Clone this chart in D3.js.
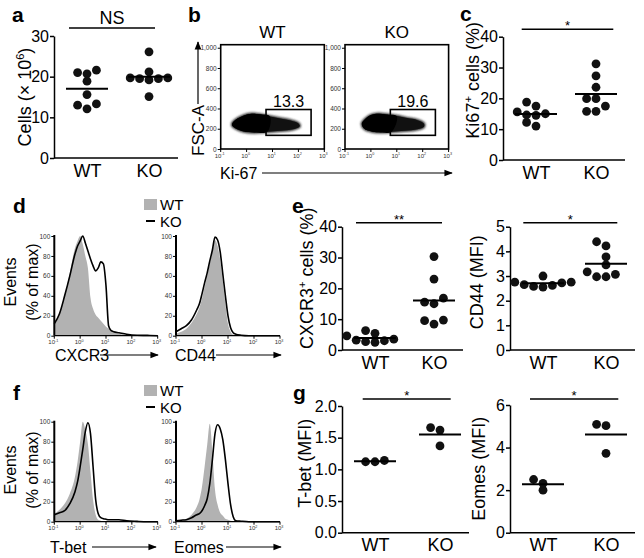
<!DOCTYPE html>
<html>
<head>
<meta charset="utf-8">
<script src="https://cdn.jsdelivr.net/npm/d3@7"></script>
<style>
  body { margin: 0; background: #fff; }
  svg { display: block; }
  text { font-family: "Liberation Sans", Arial, Helvetica, sans-serif; fill: #000; }
</style>
</head>
<body>
<svg id="fig" width="644" height="558"></svg>
<script>
const groups = ['WT', 'KO'];

// a: cell numbers (x 10^6)
const cellsWT = [21.0, 21.6, 20.7, 18.9, 15.6, 13.3, 12.1, 13.0];
const cellsKO = [26.1, 21.2, 19.7, 19.5, 19.2, 19.5, 19.7, 15.1];

// c: Ki67+ cells (%)
const ki67WT = [17.5, 18.8, 14.5, 15.0, 14.6, 15.6, 11.0, 12.2];
const ki67KO = [31.2, 27.3, 23.6, 19.9, 19.9, 17.5, 15.8, 15.8];

// e: CXCR3+ cells (%) and CD44 MFI
const cxcr3WT = [5.4, 6.3, 4.6, 3.5, 3.0, 2.7, 2.5, 3.2];
const cxcr3KO = [30.3, 23.0, 16.8, 15.5, 15.0, 9.7, 9.5, 8.4];
const cd44WT = [2.75, 2.72, 3.0, 2.65, 2.58, 2.55, 2.62, 2.75];
const cd44KO = [4.39, 4.22, 3.78, 3.45, 3.07, 2.97, 2.97, 3.17];

// g: T-bet and Eomes MFI
const tbetWT = [1.14, 1.12, 1.12];
const tbetKO = [1.66, 1.62, 1.37];
const eomesWT = [2.0, 2.5, 2.32];
const eomesKO = [5.09, 5.03, 3.73];

// b: flow plots, outline of the event cloud as [log10 Ki-67, FSC-A]
const cloudWT = [[-0.55, 255], [-0.35, 300], [-0.1, 332], [0.2, 347], [0.5, 342], [0.9, 322], [1.3, 302],
  [1.7, 282], [2.0, 252], [2.05, 225], [1.8, 195], [1.3, 180], [0.8, 170], [0.3, 163], [-0.1, 172], [-0.4, 200], [-0.55, 230]];
const cloudKO = [[-0.35, 250], [-0.2, 300], [0.0, 335], [0.3, 348], [0.6, 340], [1.0, 325], [1.4, 305],
  [1.8, 285], [2.05, 250], [2.05, 220], [1.8, 195], [1.3, 180], [0.8, 170], [0.3, 165], [0.0, 175], [-0.25, 200]];
const gateLogX = [0.75, 2.49];
const gateFSC = [135, 390];
const gatePct = ['13.3', '19.6'];
const fscTicks = [0, 200, 400, 600, 800, 1000];
const decadeTicks = [-1, 0, 1, 2, 3];

// d, f: histograms (% of max) on a shared log10 grid
const logGrid = [-1, -0.8, -0.6, -0.4, -0.2, -0.1, 0, 0.1, 0.2, 0.3, 0.4, 0.5, 0.6, 0.7, 0.8, 0.9, 1.0, 1.1, 1.2, 1.3, 1.5, 1.8, 2.2, 2.6, 3.0];
const cxcr3HistWT = [10, 22, 40, 63, 88, 95, 100, 92, 80, 68, 38, 27, 21, 18, 15, 12, 9, 7, 5, 4, 2, 1, 0.3, 0, 0];
const cxcr3HistKO = [12, 22, 40, 60, 82, 90, 95, 100, 93, 85, 77, 70, 65, 68, 74, 72, 50, 10, 5, 4, 3, 1.5, 0.5, 0.3, 0];
const cd44HistWT = [2, 4, 7, 13, 22, 28, 37, 49, 60, 72, 84, 96, 90, 76, 55, 32, 12, 4, 1, 0.5, 0, 0, 0, 0, 0];
const cd44HistKO = [4, 7, 10, 16, 26, 32, 42, 53, 63, 75, 86, 99, 96, 84, 62, 40, 20, 8, 3, 1.5, 0.5, 0, 0, 0, 0];
const tbetHistWT = [8, 12, 18, 28, 45, 60, 80, 100, 92, 78, 50, 22, 7, 2, 1, 0, 0, 0, 0, 0, 0, 0, 0, 0, 0];
const tbetHistKO = [7, 9, 11, 18, 30, 40, 55, 72, 90, 99, 88, 55, 22, 8, 4, 3, 2.5, 2, 2, 2, 2, 0.8, 0.3, 0, 0];
const eomesHistWT = [1, 2, 3, 7, 15, 22, 35, 55, 77, 98, 70, 32, 17, 9, 6, 3, 2, 1, 0.5, 0, 0, 0, 0, 0, 0];
const eomesHistKO = [1, 1.5, 2, 4, 7, 8, 11, 16, 23, 38, 62, 88, 97, 93, 82, 62, 38, 17, 5, 1, 0.5, 0, 0, 0, 0];
const pctTicks = [0, 20, 40, 60, 80, 100];

const svg = d3.select('#fig');
const GRAY = '#b2b2b2';

const defs = svg.append('defs');
defs.append('marker')
  .attr('id', 'arr').attr('viewBox', '0 0 10 10').attr('refX', 9).attr('refY', 5)
  .attr('markerWidth', 7).attr('markerHeight', 7).attr('orient', 'auto')
  .append('path').attr('d', 'M0,1 L10,5 L0,9 z').attr('fill', '#000');
defs.append('filter').attr('id', 'fuzz').attr('x', '-10%').attr('y', '-30%').attr('width', '120%').attr('height', '160%')
  .append('feGaussianBlur').attr('stdDeviation', 1.1);

// text with superscript parts: [[str, isSup], ...]
function rich(sel, parts, size) {
  let up = false;
  parts.forEach(([s, sup]) => {
    const t = sel.append('tspan').text(s);
    if (sup) { t.attr('font-size', size * 0.62).attr('dy', -size * 0.4); up = true; }
    else if (up) { t.attr('dy', size * 0.4); up = false; }
  });
  return sel;
}

function letter(t, x, y) {
  svg.append('text').attr('x', x).attr('y', y).attr('font-size', 21).attr('font-weight', 'bold').text(t);
}

function yLabel(parts, cx, cy, size) {
  const t = svg.append('text').attr('text-anchor', 'middle').attr('font-size', size)
    .attr('transform', `translate(${cx},${cy}) rotate(-90)`);
  rich(t, parts, size);
}

// simple swarm: place each dot at the nearest free column offset
function swarm(vals, y, r) {
  const s = 2 * r + 0.6;
  const placed = [];
  vals.slice().sort((a, b) => a - b).forEach(v => {
    const py = y(v);
    for (let k = 0; k < 30; k++) {
      const off = k === 0 ? 0 : (k % 2 ? -1 : 1) * Math.ceil(k / 2) * s;
      if (placed.every(q => Math.hypot(q.dx - off, q.py - py) >= 2 * r * 0.75)) {
        placed.push({ v, dx: off, py });
        break;
      }
    }
  });
  return placed;
}

function dotPlot(o) {
  const y = d3.scaleLinear().domain(o.domain).range([o.yb, o.yt]);
  const x = d3.scalePoint().domain(groups).range([o.x0 + 33, o.x1 - 29]);
  const g = svg.append('g');

  g.append('g').attr('transform', `translate(${o.x0},0)`)
    .call(d3.axisLeft(y).tickValues(o.ticks).tickFormat(o.fmt || d3.format('d')).tickSize(4).tickSizeOuter(0).tickPadding(1))
    .call(a => {
      a.select('.domain').attr('stroke-width', 1.5);
      a.selectAll('.tick line').attr('stroke-width', 1.5);
      a.selectAll('text').attr('font-size', 16).attr('font-family', null).attr('fill', '#000');
    });

  g.append('line').attr('x1', o.x0).attr('x2', o.x1).attr('y1', o.yb).attr('y2', o.yb)
    .attr('stroke', '#000').attr('stroke-width', 1.5);
  g.append('g').attr('transform', `translate(0,${o.yb})`)
    .call(d3.axisBottom(x).tickSize(0).tickPadding(6))
    .call(a => {
      a.select('.domain').remove();
      a.selectAll('text').attr('font-size', 18).attr('font-family', null).attr('fill', '#000');
    });

  const r = 4.4;
  [o.wt, o.ko].forEach((vals, i) => {
    const cx = x(groups[i]);
    g.selectAll(null).data(swarm(vals, y, r)).enter().append('circle')
      .attr('cx', d => cx + d.dx).attr('cy', d => d.py).attr('r', r).attr('fill', '#111');
    const m = y(d3.mean(vals));
    g.append('line').attr('x1', cx - 21).attr('x2', cx + 21).attr('y1', m).attr('y2', m)
      .attr('stroke', '#000').attr('stroke-width', 2);
  });

  // significance bar
  g.append('line').attr('x1', o.sig[0]).attr('x2', o.sig[1]).attr('y1', o.sigY).attr('y2', o.sigY)
    .attr('stroke', '#000').attr('stroke-width', 1.5);
  const big = o.sigText === 'NS';
  g.append('text').attr('x', (o.sig[0] + o.sig[1]) / 2).attr('y', big ? o.sigY - 4 : o.sigY + 1)
    .attr('text-anchor', 'middle').attr('font-size', big ? 18 : 13).text(o.sigText);

  yLabel(o.label, o.lx, (o.yb + o.yt) / 2 + (o.ldy || 0), 18);
}

function decadeAxis(g, x, yb) {
  const t = g.selectAll(null).data(decadeTicks).enter();
  t.append('line').attr('x1', d => x(d)).attr('x2', d => x(d)).attr('y1', yb).attr('y2', yb + 3)
    .attr('stroke', '#000').attr('stroke-width', 1);
  t.append('text').attr('x', d => x(d) - 1).attr('y', yb + 8.5).attr('text-anchor', 'middle')
    .attr('font-size', 6).style('fill', '#333')
    .each(function (d) { rich(d3.select(this), [['10', false], [String(d), true]], 6); });
}

function leftSmallAxis(g, y, x0, ticks) {
  g.append('g').attr('transform', `translate(${x0},0)`)
    .call(d3.axisLeft(y).tickValues(ticks).tickSize(3).tickSizeOuter(0).tickPadding(1))
    .call(a => {
      a.select('.domain').remove();
      a.selectAll('text').attr('font-size', 6.5).attr('font-family', null).style('fill', '#333');
    });
}

function flowPlot(o) {
  const x = d3.scaleLinear().domain([-1, 3]).range([o.x0, o.x1]);
  const y = d3.scaleLinear().domain([0, 1030]).range([o.yb, o.yt]);
  const g = svg.append('g');
  const cloud = d3.line().x(d => x(d[0])).y(d => y(d[1])).curve(d3.curveCatmullRomClosed);
  // soft fringe, then solid core
  g.append('path').attr('d', cloud(o.cloud)).attr('fill', '#222')
    .attr('stroke', '#333').attr('stroke-width', 2.5).attr('filter', 'url(#fuzz)');
  g.append('path').attr('d', cloud(o.cloud)).attr('fill', '#111');
  g.append('path').attr('d', cloud(o.cloud.filter(d => d[0] < 1.2))).attr('fill', '#000');
  g.append('rect').attr('x', o.x0).attr('y', o.yt).attr('width', o.x1 - o.x0).attr('height', o.yb - o.yt)
    .attr('fill', 'none').attr('stroke', '#000').attr('stroke-width', 1.6);
  leftSmallAxis(g, y, o.x0, fscTicks);
  decadeAxis(g, x, o.yb);
  g.append('rect').attr('x', x(gateLogX[0])).attr('y', y(gateFSC[1]))
    .attr('width', x(gateLogX[1]) - x(gateLogX[0])).attr('height', y(gateFSC[0]) - y(gateFSC[1]))
    .attr('fill', 'none').attr('stroke', '#000').attr('stroke-width', 1.6);
  g.append('text').attr('x', (x(gateLogX[0]) + x(gateLogX[1])) / 2).attr('y', y(gateFSC[1]) - 3)
    .attr('text-anchor', 'middle').attr('font-size', 16).text(o.pct);
  g.append('text').attr('x', (o.x0 + o.x1) / 2).attr('y', o.yt - 7)
    .attr('text-anchor', 'middle').attr('font-size', 17).text(o.title);
}

function histPlot(o) {
  const x = d3.scaleLinear().domain([-1, 3]).range([o.x0, o.x1]);
  const y = d3.scaleLinear().domain([0, 100]).range([o.yb, o.yt]);
  const g = svg.append('g');
  g.append('path').datum(o.gray)
    .attr('d', d3.area().x((d, i) => x(logGrid[i])).y0(o.yb).y1(d => y(d)).curve(d3.curveMonotoneX))
    .attr('fill', GRAY);
  g.append('path').datum(o.black)
    .attr('d', d3.line().x((d, i) => x(logGrid[i])).y(d => y(d)).curve(d3.curveMonotoneX))
    .attr('fill', 'none').attr('stroke', '#000').attr('stroke-width', 1.6);
  g.append('line').attr('x1', o.x0).attr('x2', o.x0).attr('y1', o.yb).attr('y2', o.yt - 1)
    .attr('stroke', '#000').attr('stroke-width', 2);
  g.append('line').attr('x1', o.x0).attr('x2', o.x1).attr('y1', o.yb).attr('y2', o.yb)
    .attr('stroke', '#000').attr('stroke-width', 1.2);
  leftSmallAxis(g, y, o.x0, pctTicks);
  decadeAxis(g, x, o.yb);
}

function arrowLabel(t, tx, ty, ax1, ax2, ay) {
  svg.append('text').attr('x', tx).attr('y', ty).attr('font-size', 16).text(t);
  svg.append('line').attr('x1', ax1).attr('x2', ax2).attr('y1', ay).attr('y2', ay)
    .attr('stroke', '#000').attr('stroke-width', 1.2).attr('marker-end', 'url(#arr)');
}

function legend(y0) {
  svg.append('rect').attr('x', 144).attr('y', y0).attr('width', 13).attr('height', 11).attr('fill', GRAY);
  svg.append('text').attr('x', 160).attr('y', y0 + 11).attr('font-size', 15).text('WT');
  svg.append('line').attr('x1', 146).attr('x2', 155).attr('y1', y0 + 22).attr('y2', y0 + 22)
    .attr('stroke', '#000').attr('stroke-width', 2);
  svg.append('text').attr('x', 160).attr('y', y0 + 28).attr('font-size', 15).text('KO');
}

function eventsLabel(cy) {
  yLabel([['Events', false]], 16, cy, 16);
  yLabel([['(% of max)', false]], 38, cy, 16);
}

// ---- a ----
letter('a', 12, 22);
dotPlot({ x0: 54, x1: 178, yb: 158, yt: 36, domain: [0, 30], ticks: [0, 10, 20, 30],
  wt: cellsWT, ko: cellsKO, sig: [69, 155], sigY: 28, sigText: 'NS',
  label: [['Cells (× 10', false], ['6', true], [')', false]], lx: 31 });

// ---- b ----
letter('b', 188, 22);
flowPlot({ x0: 220.7, x1: 324.3, yt: 44.7, yb: 149, cloud: cloudWT, pct: gatePct[0], title: 'WT' });
flowPlot({ x0: 345, x1: 448.6, yt: 44.7, yb: 149, cloud: cloudKO, pct: gatePct[1], title: 'KO' });
svg.append('text').attr('text-anchor', 'start').attr('font-size', 17)
  .attr('transform', 'translate(204,156) rotate(-90)').text('FSC-A');
svg.append('line').attr('x1', 198).attr('x2', 198).attr('y1', 104).attr('y2', 42)
  .attr('stroke', '#000').attr('stroke-width', 1.2).attr('marker-end', 'url(#arr)');
arrowLabel('Ki-67', 220, 179, 262, 452, 173);

// ---- c ----
letter('c', 460, 21);
dotPlot({ x0: 503, x1: 625, yb: 160, yt: 36.7, domain: [0, 40], ticks: [0, 10, 20, 30, 40],
  wt: ki67WT, ko: ki67KO, sig: [521.7, 613.3], sigY: 29.3, sigText: '*',
  label: [['Ki67', false], ['+', true], [' cells (%)', false]], lx: 479, ldy: -18 });

// ---- d ----
letter('d', 13, 213);
legend(199);
histPlot({ x0: 54.3, x1: 157.7, yt: 236, yb: 335.7, gray: cxcr3HistWT, black: cxcr3HistKO });
histPlot({ x0: 176, x1: 280, yt: 236, yb: 335.7, gray: cd44HistWT, black: cd44HistKO });
eventsLabel(282);
arrowLabel('CXCR3', 55, 361, 100, 158, 355);
arrowLabel('CD44', 175, 361, 216, 281, 355);

// ---- e ----
letter('e', 292, 213);
dotPlot({ x0: 342, x1: 463, yb: 350, yt: 226.7, domain: [0, 40], ticks: [0, 10, 20, 30, 40],
  wt: cxcr3WT, ko: cxcr3KO, sig: [356, 442], sigY: 222.7, sigText: '**',
  label: [['CXCR3', false], ['+', true], [' cells (%)', false]], lx: 313, ldy: -10 });
dotPlot({ x0: 510, x1: 635, yb: 350, yt: 226.7, domain: [0, 5], ticks: [0, 1, 2, 3, 4, 5],
  wt: cd44WT, ko: cd44KO, sig: [523.3, 617.3], sigY: 222.7, sigText: '*',
  label: [['CD44 (MFI)', false]], lx: 483, ldy: -6 });

// ---- f ----
letter('f', 13, 400);
legend(385);
histPlot({ x0: 54.3, x1: 157.7, yt: 421.7, yb: 521.7, gray: tbetHistWT, black: tbetHistKO });
histPlot({ x0: 176, x1: 280, yt: 421.7, yb: 521.7, gray: eomesHistWT, black: eomesHistKO });
eventsLabel(470);
arrowLabel('T-bet', 50, 553, 92, 156, 547);
arrowLabel('Eomes', 174, 553, 226, 281, 547);

// ---- g ----
letter('g', 293, 400);
dotPlot({ x0: 342, x1: 469, yb: 532.7, yt: 406, domain: [0, 2], ticks: [0, 0.5, 1, 1.5, 2], fmt: d3.format('.1f'),
  wt: tbetWT, ko: tbetKO, sig: [362.7, 450.7], sigY: 399, sigText: '*',
  label: [['T-bet (MFI)', false]], lx: 311, ldy: -6 });
dotPlot({ x0: 510, x1: 635, yb: 532.7, yt: 405, domain: [0, 6], ticks: [0, 2, 4, 6],
  wt: eomesWT, ko: eomesKO, sig: [530, 618.3], sigY: 399, sigText: '*',
  label: [['Eomes (MFI)', false]], lx: 485 });
</script>
</body>
</html>
